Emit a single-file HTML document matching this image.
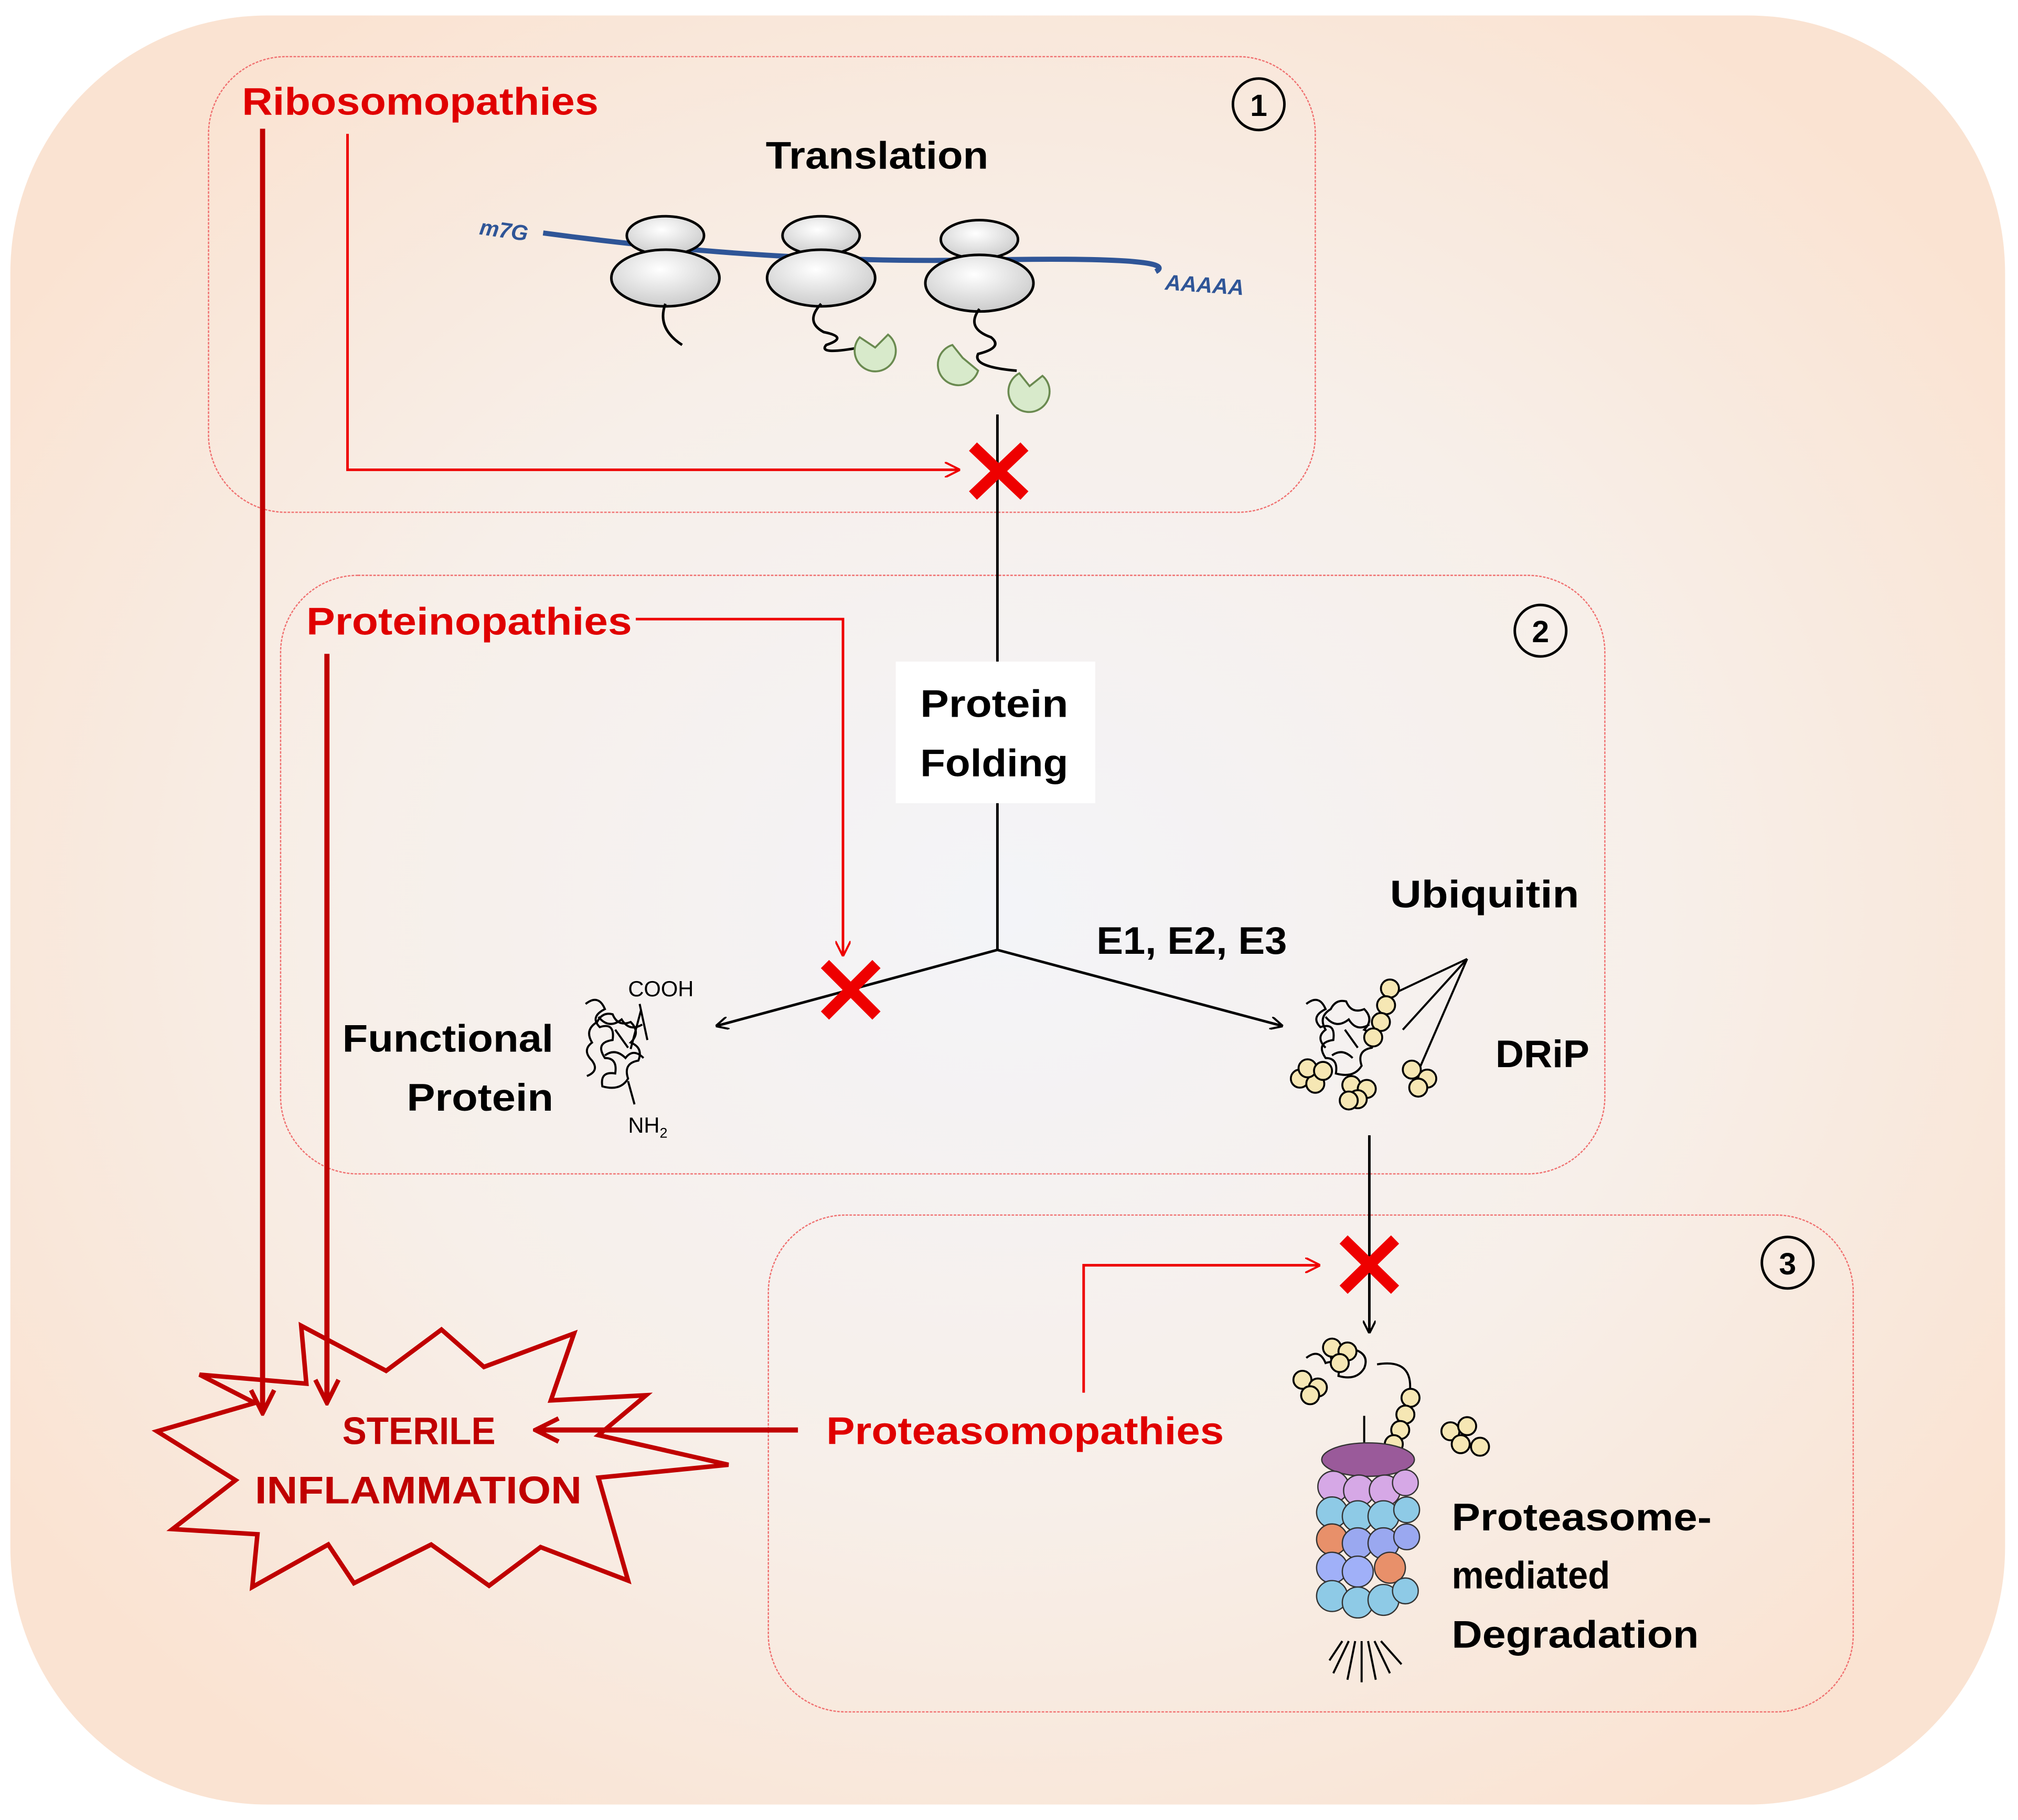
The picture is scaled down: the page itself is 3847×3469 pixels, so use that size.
<!DOCTYPE html>
<html><head><meta charset="utf-8"><style>
html,body{margin:0;padding:0;background:#fff;}
svg{display:block;}
text{font-family:"Liberation Sans",sans-serif;font-weight:bold;}
</style></head><body>
<svg width="3847" height="3469" viewBox="0 0 1568 1414" xmlns="http://www.w3.org/2000/svg">
<defs>
<radialGradient id="bg" cx="50%" cy="50%" r="60%">
<stop offset="0" stop-color="#f3f4f8"/><stop offset="0.55" stop-color="#f7efe9"/><stop offset="1" stop-color="#fae3d2"/>
</radialGradient>
<radialGradient id="rib" cx="45%" cy="35%" r="70%">
<stop offset="0" stop-color="#ffffff"/><stop offset="1" stop-color="#c8c8c8"/>
</radialGradient>
<marker id="ab" markerWidth="10" markerHeight="10" refX="9" refY="5" orient="auto" markerUnits="userSpaceOnUse"><path d="M0,0 L10,5 L0,10" fill="none" stroke="#000" stroke-width="1.6"/></marker>
<marker id="ar" markerWidth="12" markerHeight="12" refX="11" refY="6" orient="auto" markerUnits="userSpaceOnUse"><path d="M0,0 L12,6 L0,12" fill="none" stroke="#e00" stroke-width="1.6"/></marker>
<marker id="ad" markerWidth="22" markerHeight="22" refX="20" refY="11" orient="auto" markerUnits="userSpaceOnUse"><path d="M2,2 L20,11 L2,20" fill="none" stroke="#c00000" stroke-width="3.5"/></marker>
</defs>
<rect x="0" y="0" width="1568" height="1414" fill="#fff"/>
<rect x="8" y="12" width="1550" height="1390" rx="200" fill="url(#bg)"/>
<g fill="none" stroke="#f07070" stroke-width="1" stroke-dasharray="2,1">
<rect x="162" y="44" width="860" height="354" rx="60"/>
<rect x="218" y="447" width="1029" height="465" rx="60"/>
<rect x="597" y="944" width="843" height="386" rx="60"/>
</g>
<g fill="none" stroke="#000" stroke-width="2">
<circle cx="978" cy="81" r="20"/><circle cx="1197" cy="490" r="20"/><circle cx="1389" cy="981" r="20"/>
</g>
<g font-size="24" text-anchor="middle"><text x="978" y="90">1</text><text x="1197" y="499">2</text><text x="1389" y="990">3</text></g>

<path d="M422,181 Q600,205 760,202 T898,211" fill="none" stroke="#2f5597" stroke-width="4"/>
<text x="372" y="182" font-size="17" fill="#2f5597" font-style="italic" transform="rotate(8 372 182)">m7G</text>
<text x="905" y="225" font-size="17" fill="#2f5597" font-style="italic" transform="rotate(4 905 225)">AAAAA</text>
<g stroke="#000" stroke-width="2" fill="url(#rib)">
<ellipse cx="517" cy="183" rx="30" ry="15"/><ellipse cx="517" cy="216" rx="42" ry="22"/>
<ellipse cx="638" cy="183" rx="30" ry="15"/><ellipse cx="638" cy="216" rx="42" ry="22"/>
<ellipse cx="761" cy="186" rx="30" ry="15"/><ellipse cx="761" cy="220" rx="42" ry="22"/>
</g>
<g fill="none" stroke="#000" stroke-width="2">
<path d="M517,236 Q510,255 530,268"/>
<path d="M638,236 Q625,250 640,258 Q660,262 642,268 Q635,276 668,270"/>
<path d="M761,240 Q750,255 770,262 Q780,270 760,275 Q755,285 790,288"/>
</g>
<g fill="#d8eacb" stroke="#6a8a50" stroke-width="1.5">
<path d="M668,262 A16,16 0 1 0 690,260 L680,270 Z"/>
<path d="M740,268 A16,16 0 1 0 760,288 L748,278 Z"/>
<path d="M792,290 A16,16 0 1 0 810,292 L800,300 Z"/>
</g>
<text x="595" y="131" font-size="30" textLength="173" lengthAdjust="spacingAndGlyphs">Translation</text>
<text x="188" y="89" font-size="30" fill="#e00000" textLength="277" lengthAdjust="spacingAndGlyphs">Ribosomopathies</text>

<g stroke="#000" stroke-width="2" fill="none">
<line x1="775" y1="322" x2="775" y2="514"/>
<line x1="775" y1="624" x2="775" y2="738"/>
<line x1="775" y1="738" x2="557" y2="797" marker-end="url(#ab)"/>
<line x1="775" y1="738" x2="996" y2="797" marker-end="url(#ab)"/>
<line x1="1064" y1="882" x2="1064" y2="1035" marker-end="url(#ab)"/>
</g>
<rect x="696" y="514" width="155" height="110" fill="#fff"/>
<text x="715" y="557" font-size="30" textLength="115" lengthAdjust="spacingAndGlyphs">Protein</text>
<text x="715" y="603" font-size="30" textLength="115" lengthAdjust="spacingAndGlyphs">Folding</text>
<text x="852" y="741" font-size="30" textLength="148" lengthAdjust="spacingAndGlyphs">E1, E2, E3</text>
<text x="1080" y="705" font-size="30" textLength="147" lengthAdjust="spacingAndGlyphs">Ubiquitin</text>
<text x="1162" y="829" font-size="30" textLength="73" lengthAdjust="spacingAndGlyphs">DRiP</text>
<text x="266" y="817" font-size="30" textLength="164" lengthAdjust="spacingAndGlyphs">Functional</text>
<text x="316" y="863" font-size="30" textLength="114" lengthAdjust="spacingAndGlyphs">Protein</text>
<text x="488" y="774" font-size="17" style="font-weight:normal">COOH</text>
<text x="488" y="880" font-size="17" style="font-weight:normal">NH<tspan font-size="11" dy="4">2</tspan></text>

<g fill="none" stroke="#000" stroke-width="1.6">
<path d="M455,780 q10,-8 15,4 q-12,6 -4,14 q12,-4 10,10 q-14,2 -6,14 q10,0 8,12 q-12,-2 -10,10 q14,4 20,-6 q-4,-12 8,-14 q4,-10 -6,-14 q8,-8 0,-16 q-10,4 -14,-6 q-8,-2 -12,6 q-10,6 -4,16 q-8,6 0,14 q6,8 -4,12"/>
<path d="M465,790 q8,10 18,2 q6,10 16,4 M470,820 q8,-6 16,2 q6,-8 14,0 M478,800 l10,14 M498,785 l-8,30"/>
<line x1="497" y1="780" x2="503" y2="808"/><line x1="488" y1="840" x2="493" y2="858"/>
<path d="M1015,780 q10,-8 15,4 q-12,6 -4,14 q12,-4 10,10 q-14,2 -6,14 q10,0 8,12 q14,4 20,-6 q-4,-12 8,-14 q4,-10 -6,-14 q8,-8 0,-16 q-10,4 -14,-6 q-8,-2 -12,6 q-10,6 -4,16 q-8,6 0,14"/>
<path d="M1030,790 q8,10 18,2 q6,10 16,4 M1035,820 q8,-6 16,2 M1045,800 l10,14"/>
<line x1="1087" y1="770" x2="1140" y2="745"/><line x1="1140" y1="745" x2="1103" y2="830"/><line x1="1140" y1="745" x2="1090" y2="800"/>
<path d="M1015,1055 q10,-8 15,4 q12,-4 10,10 q14,4 20,-6 q4,-10 -6,-14 q-10,4 -14,-6 q-10,6 -4,16"/>
<path d="M1070,1060 q30,-5 25,25 M1060,1100 l0,25"/>
<path d="M1048,1275 l-12,25 M1053,1275 l-6,30 M1058,1275 l0,32 M1063,1275 l6,30 M1068,1275 l12,25 M1073,1275 l16,18 M1043,1275 l-10,15"/>
</g>
<g fill="#f6e7b4" stroke="#000" stroke-width="1.5">
<circle cx="1080" cy="768" r="7"/><circle cx="1077" cy="781" r="7"/><circle cx="1073" cy="794" r="7"/><circle cx="1067" cy="806" r="7"/>
<circle cx="1010" cy="838" r="7"/><circle cx="1022" cy="842" r="7"/><circle cx="1016" cy="830" r="7"/><circle cx="1028" cy="832" r="7"/>
<circle cx="1050" cy="843" r="7"/><circle cx="1062" cy="846" r="7"/><circle cx="1055" cy="854" r="7"/><circle cx="1048" cy="855" r="7"/>
<circle cx="1097" cy="831" r="7"/><circle cx="1109" cy="838" r="7"/><circle cx="1102" cy="845" r="7"/>
<circle cx="1035" cy="1047" r="7"/><circle cx="1047" cy="1050" r="7"/><circle cx="1041" cy="1059" r="7"/>
<circle cx="1012" cy="1072" r="7"/><circle cx="1024" cy="1078" r="7"/><circle cx="1018" cy="1084" r="7"/>
<circle cx="1096" cy="1086" r="7"/><circle cx="1092" cy="1099" r="7"/><circle cx="1088" cy="1111" r="7"/><circle cx="1083" cy="1122" r="7"/>
<circle cx="1127" cy="1112" r="7"/><circle cx="1140" cy="1108" r="7"/><circle cx="1135" cy="1122" r="7"/><circle cx="1150" cy="1124" r="7"/>
</g>
<g stroke="#333" stroke-width="1">
<ellipse cx="1063" cy="1134" rx="36" ry="13" fill="#9a5a9a"/>
<g fill="#d6a8e6"><circle cx="1036" cy="1155" r="12"/><circle cx="1056" cy="1158" r="12"/><circle cx="1076" cy="1158" r="12"/><circle cx="1092" cy="1152" r="10"/></g>
<g fill="#8ecae6"><circle cx="1035" cy="1175" r="12"/><circle cx="1055" cy="1178" r="12"/><circle cx="1075" cy="1178" r="12"/><circle cx="1093" cy="1173" r="10"/></g>
<g fill="#e8906a"><circle cx="1035" cy="1196" r="12"/></g><g fill="#9aa8f0"><circle cx="1055" cy="1199" r="12"/><circle cx="1075" cy="1199" r="12"/><circle cx="1093" cy="1194" r="10"/></g>
<g fill="#a0b0f8"><circle cx="1035" cy="1218" r="12"/><circle cx="1055" cy="1221" r="12"/></g><g fill="#e8906a"><circle cx="1080" cy="1218" r="12"/></g>
<g fill="#8ecae6"><circle cx="1035" cy="1240" r="12"/><circle cx="1055" cy="1245" r="12"/><circle cx="1075" cy="1243" r="12"/><circle cx="1092" cy="1236" r="10"/></g>
</g>
<text x="1128" y="1189" font-size="30" textLength="202" lengthAdjust="spacingAndGlyphs">Proteasome-</text>
<text x="1128" y="1234" font-size="30" textLength="123" lengthAdjust="spacingAndGlyphs">mediated</text>
<text x="1128" y="1280" font-size="30" textLength="192" lengthAdjust="spacingAndGlyphs">Degradation</text>

<text x="238" y="493" font-size="30" fill="#e00000" textLength="253" lengthAdjust="spacingAndGlyphs">Proteinopathies</text>
<text x="642" y="1122" font-size="30" fill="#e00000" textLength="309" lengthAdjust="spacingAndGlyphs">Proteasomopathies</text>
<g fill="none" stroke="#e00" stroke-width="2">
<polyline points="270,104 270,365 745,365" marker-end="url(#ar)"/>
<polyline points="494,481 655,481 655,742" marker-end="url(#ar)"/>
<polyline points="842,1082 842,983 1025,983" marker-end="url(#ar)"/>
</g>
<g stroke="#e00" stroke-width="9" stroke-linecap="butt">
<line x1="756" y1="347" x2="796" y2="385"/><line x1="796" y1="347" x2="756" y2="385"/>
<line x1="641" y1="749" x2="681" y2="789"/><line x1="681" y1="749" x2="641" y2="789"/>
<line x1="1044" y1="963" x2="1084" y2="1002"/><line x1="1084" y1="963" x2="1044" y2="1002"/>
</g>
<g fill="none" stroke="#c00000" stroke-width="4">
<line x1="204" y1="100" x2="204" y2="1098" marker-end="url(#ad)"/>
<line x1="254" y1="508" x2="254" y2="1090" marker-end="url(#ad)"/>
<line x1="620" y1="1111" x2="416" y2="1111" marker-end="url(#ad)"/>
</g>
<polygon points="122,1112 198,1090 155,1068 238,1075 234,1030 300,1065 343,1033 376,1062 446,1036 428,1088 502,1084 465,1115 566,1138 465,1148 488,1228 420,1202 380,1232 335,1200 275,1230 255,1200 196,1233 200,1192 134,1188 183,1150" fill="none" stroke="#c00000" stroke-width="3.5" stroke-linejoin="miter"/>
<text x="266" y="1122" font-size="30" fill="#c00000" textLength="119" lengthAdjust="spacingAndGlyphs">STERILE</text>
<text x="198" y="1168" font-size="30" fill="#c00000" textLength="254" lengthAdjust="spacingAndGlyphs">INFLAMMATION</text>
</svg>
</body></html>
